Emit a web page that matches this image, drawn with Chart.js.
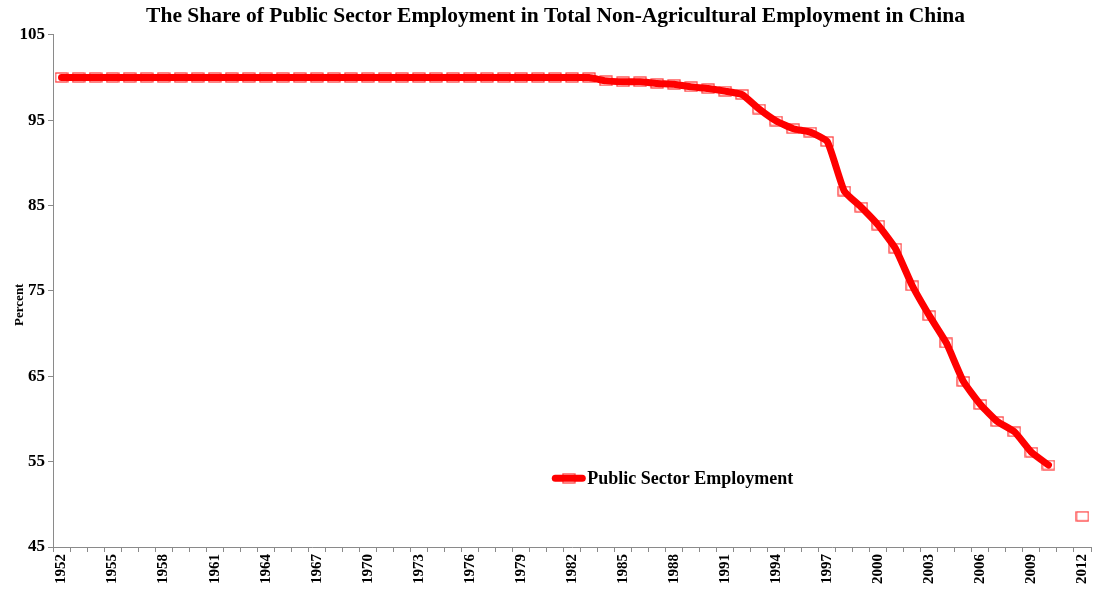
<!DOCTYPE html>
<html>
<head>
<meta charset="utf-8">
<title>Public Sector Employment in China</title>
<script src="https://cdn.jsdelivr.net/npm/chart.js@4/dist/chart.umd.min.js"></script>
<style>
  html, body { margin: 0; padding: 0; background: #fff; }
  #wrap { width: 1093px; height: 590px; }
</style>
</head>
<body>
<div id="wrap"><canvas id="share-chart"></canvas></div>
<script>
"use strict";

// Years on the category axis
var years = [
    1952, 1953, 1954, 1955, 1956, 1957, 1958, 1959, 1960, 1961,
    1962, 1963, 1964, 1965, 1966, 1967, 1968, 1969, 1970, 1971,
    1972, 1973, 1974, 1975, 1976, 1977, 1978, 1979, 1980, 1981,
    1982, 1983, 1984, 1985, 1986, 1987, 1988, 1989, 1990, 1991,
    1992, 1993, 1994, 1995, 1996, 1997, 1998, 1999, 2000, 2001,
    2002, 2003, 2004, 2005, 2006, 2007, 2008, 2009, 2010, 2011,
    2012
];

// Public sector share of non-agricultural employment (%), 2011 missing
var publicShare = [
    100, 100, 100, 100, 100, 100, 100, 100, 100, 100,
    100, 100, 100, 100, 100, 100, 100, 100, 100, 100,
    100, 100, 100, 100, 100, 100, 100, 100, 100, 100,
    100, 100, 99.6, 99.5, 99.5, 99.3, 99.2, 98.9, 98.7, 98.4,
    98.0, 96.3, 94.9, 94.0, 93.6, 92.5, 86.7, 84.8, 82.7, 80.0,
    75.6, 72.1, 68.9, 64.4, 61.7, 59.7, 58.5, 56.1, 54.6, null,
    48.6
];

// Labelled years and y-axis ticks
var tickYears = [1952, 1955, 1958, 1961, 1964, 1967, 1970, 1973, 1976, 1979,
                 1982, 1985, 1988, 1991, 1994, 1997, 2000, 2003, 2006, 2009, 2012];
var yTicks = [45, 55, 65, 75, 85, 95, 105];

var serif = '"Liberation Serif", "Times New Roman", serif';
var axisGray = '#8a8a8a';

// Hollow, slightly wide square used as the point marker
function boxMarker(w, h, color) {
    var c = document.createElement('canvas');
    c.width = w + 2;
    c.height = h + 2;
    var g = c.getContext('2d');
    g.strokeStyle = color;
    g.lineWidth = 1.2;
    g.strokeRect(1, 1, w, h);
    return c;
}
var marker = boxMarker(12, 9, 'rgba(255, 0, 0, 0.8)');

// Legend inside the plot plus the rotated "Percent" label
var extras = {
    id: 'extras',
    afterDraw: function (chart) {
        var ds = chart.data.datasets[0];
        var area = chart.chartArea;
        var ctx = chart.ctx;
        var x = area.left + area.width * 0.481;
        var y = area.top + area.height * 0.866;
        ctx.save();
        ctx.strokeStyle = ds.borderColor;
        ctx.lineWidth = ds.borderWidth;
        ctx.lineCap = 'round';
        ctx.beginPath();
        ctx.moveTo(x + 3, y);
        ctx.lineTo(x + 30, y);
        ctx.stroke();
        ctx.drawImage(marker, x + 16.5 - marker.width / 2, y - marker.height / 2);
        ctx.fillStyle = '#000';
        ctx.font = 'bold 18px ' + serif;
        ctx.textBaseline = 'middle';
        ctx.fillText(ds.label, x + 35, y + 1);

        ctx.translate(20, area.top + area.height * 0.527);
        ctx.rotate(-Math.PI / 2);
        ctx.font = 'bold 13px ' + serif;
        ctx.textAlign = 'center';
        ctx.fillText('Percent', 0, 0);
        ctx.restore();
    }
};

var ctx = document.getElementById('share-chart').getContext('2d');
var shareChart = new Chart(ctx, {
    type: 'line',
    data: {
        labels: years,
        datasets: [{
            label: 'Public Sector Employment',
            data: publicShare,
            borderColor: '#ff0000',
            borderWidth: 7,
            borderCapStyle: 'round',
            borderJoinStyle: 'round',
            tension: 0.15,
            spanGaps: false,
            pointStyle: marker,
            pointRadius: 6
        }]
    },
    options: {
        responsive: true,
        maintainAspectRatio: false,
        animation: false,
        layout: { autoPadding: false, padding: { left: 20, right: 2, top: 0, bottom: 0 } },
        plugins: {
            legend: { display: false },
            tooltip: { enabled: false },
            title: {
                display: true,
                text: 'The Share of Public Sector Employment in Total Non-Agricultural Employment in China',
                color: '#000',
                font: { family: serif, size: 21.5, weight: 'bold' },
                padding: { top: 4, bottom: 5 }
            }
        },
        scales: {
            x: {
                offset: true,
                grid: { offset: true, drawOnChartArea: false, color: axisGray, tickLength: 5 },
                border: { color: axisGray },
                ticks: {
                    autoSkip: false,
                    minRotation: 90,
                    maxRotation: 90,
                    padding: 2,
                    color: '#000',
                    font: { family: serif, size: 15, weight: 'bold' },
                    callback: function (value) {
                        var lab = this.getLabelForValue(value);
                        return tickYears.indexOf(+lab) >= 0 ? String(lab) : '';
                    }
                },
                afterFit: function (scale) {
                    scale.height = 43;
                    scale.paddingLeft = 0;
                    scale.paddingRight = 0;
                }
            },
            y: {
                min: 45,
                max: 105,
                grid: { drawOnChartArea: false, color: axisGray, tickLength: 5 },
                border: { color: axisGray },
                ticks: {
                    padding: 3,
                    color: '#000',
                    font: { family: serif, size: 17, weight: 'bold' }
                },
                afterBuildTicks: function (scale) {
                    scale.ticks = yTicks.map(function (v) { return { value: v }; });
                },
                afterFit: function (scale) {
                    scale.width = 33;
                    scale.paddingTop = 0;
                    scale.paddingBottom = 0;
                }
            }
        }
    },
    plugins: [extras]
});
</script>
</body>
</html>
